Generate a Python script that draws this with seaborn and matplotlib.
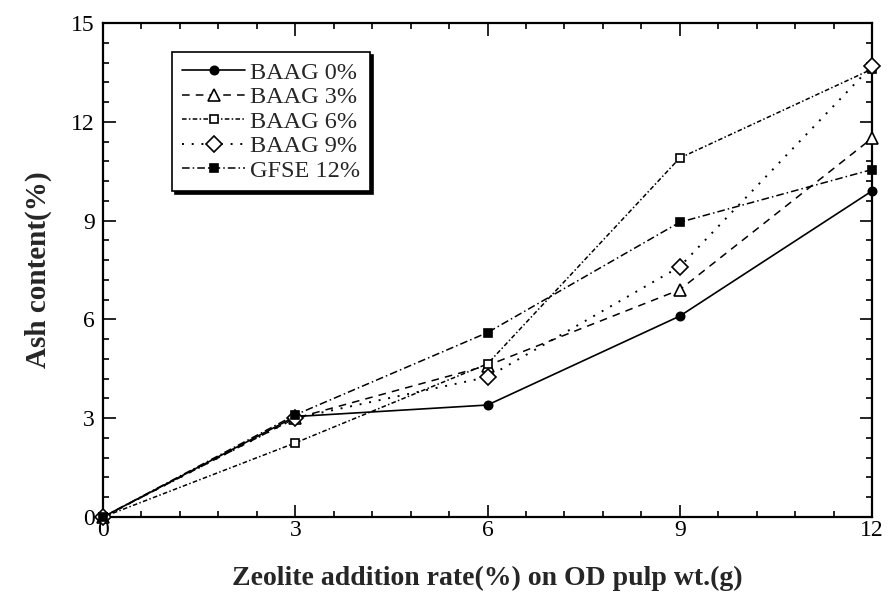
import matplotlib
matplotlib.use("Agg")
import matplotlib.pyplot as plt
from matplotlib.ticker import MultipleLocator
import seaborn as sns
import pandas as pd

x_vals = [0, 3, 6, 9, 12]
baag0 = [0.0, 3.05, 3.4, 6.1, 9.9]
baag3 = [0.0, 3.0, 4.6, 6.9, 11.5]
baag6 = [0.0, 2.25, 4.65, 10.9, 13.6]
baag9 = [0.0, 3.0, 4.25, 7.6, 13.7]
gfse12 = [0.0, 3.1, 5.6, 8.95, 10.55]
labels = ["BAAG 0%", "BAAG 3%", "BAAG 6%", "BAAG 9%", "GFSE 12%"]
series = [baag0, baag3, baag6, baag9, gfse12]

sns.set_theme(style="ticks")
plt.rcParams['font.family'] = ['Liberation Serif', 'DejaVu Serif']

styles = [
    dict(marker='o', markersize=6, markerfacecolor='black', linestyle='-', linewidth=1.2),
    dict(marker='^', markersize=8, markerfacecolor='white', linestyle=(0, (5, 4)), linewidth=1.1),
    dict(marker='s', markersize=6, markerfacecolor='white', linestyle=(0, (3, 1.5, 1, 1.5)), linewidth=1.1),
    dict(marker='D', markersize=8, markerfacecolor='white', linestyle=(0, (1, 4)), linewidth=1.4),
    dict(marker='s', markersize=6, markerfacecolor='black', linestyle=(0, (5, 2, 1, 2)), linewidth=1.1),
]

fig = plt.figure(figsize=(8.88, 6.08), dpi=100)
ax = fig.add_axes([103/888, 1-517/608, (872-103)/888, (517-23)/608])

for lab, vals, st in zip(labels, series, styles):
    df = pd.DataFrame({"x": x_vals, "y": vals})
    sns.lineplot(data=df, x="x", y="y", ax=ax, color='black', label=lab,
                 markeredgecolor='black', markeredgewidth=1.2, clip_on=False,
                 zorder=3, **st)

ax.set_xlim(0, 12)
ax.set_ylim(0, 15)
ax.xaxis.set_major_locator(MultipleLocator(3))
ax.yaxis.set_major_locator(MultipleLocator(3))
ax.xaxis.set_minor_locator(MultipleLocator(0.6))
ax.yaxis.set_minor_locator(MultipleLocator(0.6))
ax.tick_params(which='both', direction='in', top=True, right=True, colors='black', labelsize=17, width=1.2)
ax.tick_params(which='major', length=9)
ax.tick_params(axis='x', which='major', pad=2)
ax.tick_params(axis='y', which='major', pad=6)
ax.tick_params(which='minor', length=4)
for sp in ax.spines.values():
    sp.set_visible(True)
    sp.set_color('black')
    sp.set_linewidth(1.6)

ax.set_xlabel("Zeolite addition rate(%) on OD pulp wt.(g)", fontsize=20, fontweight='bold', labelpad=18)
ax.set_ylabel("Ash content(%)", fontsize=21, fontweight='bold', labelpad=14)

leg = ax.legend(loc='upper left', bbox_to_anchor=(0.09, 0.941), borderaxespad=0,
                fontsize=17.5, frameon=True, fancybox=False, handlelength=2.6,
                handletextpad=0.2, labelspacing=0.1, borderpad=0.4,
                shadow={'color': 'black', 'alpha': 1})
leg.get_frame().set_edgecolor('black')
leg.get_frame().set_linewidth(1.2)
leg.get_frame().set_alpha(1)

fig.savefig("out.png", dpi=100)
